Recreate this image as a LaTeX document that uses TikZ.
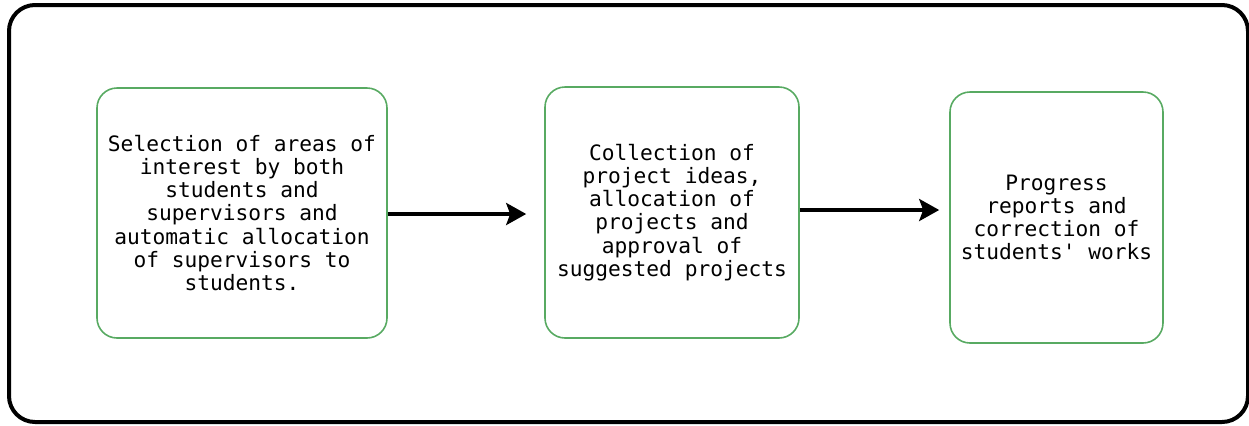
\documentclass[tikz,border=0pt]{standalone}
\usepackage{fontspec}
\setmonofont{DejaVu Sans Mono}
\usetikzlibrary{arrows.meta}

\definecolor{boxgreen}{RGB}{88,170,98}

\tikzset{
    stage/.style={draw=boxgreen, line width=0.8pt, rounded corners=10pt,
        align=center, inner sep=2pt,
        font=\ttfamily\fontsize{10.6}{11.6}\selectfont},
    flow/.style={-{Stealth[length=10pt,width=11pt,inset=2pt]}, line width=1.8pt}
}

\begin{document}
\begin{tikzpicture}[x=0.5pt,y=-0.5pt]
    \useasboundingbox (0,0) rectangle (1249,425);

    % Frame
    \draw[line width=2pt, rounded corners=13pt] (9,5) rectangle (1248,422);

    % Stages
    \node[stage, minimum width=145pt, minimum height=125pt] (select) at (242,213)
        {Selection of areas of\\interest by both\\students and\\supervisors and\\automatic allocation\\of supervisors to\\students.};
    \node[stage, minimum width=127pt, minimum height=125.5pt] (collect) at (672,212.5)
        {Collection of\\project ideas,\\allocation of\\projects and\\approval of\\suggested projects};
    \node[stage, minimum width=106.5pt, minimum height=125.5pt] (progress) at (1056.5,217.5)
        {Progress\\reports and\\correction of\\students' works};

    % Arrows
    \draw[flow, shorten >=9pt] (select.east |- 0,214) -- (collect.west |- 0,214);
    \draw[flow, shorten >=5pt] (collect.east |- 0,210) -- (progress.west |- 0,210);
\end{tikzpicture}
\end{document}
